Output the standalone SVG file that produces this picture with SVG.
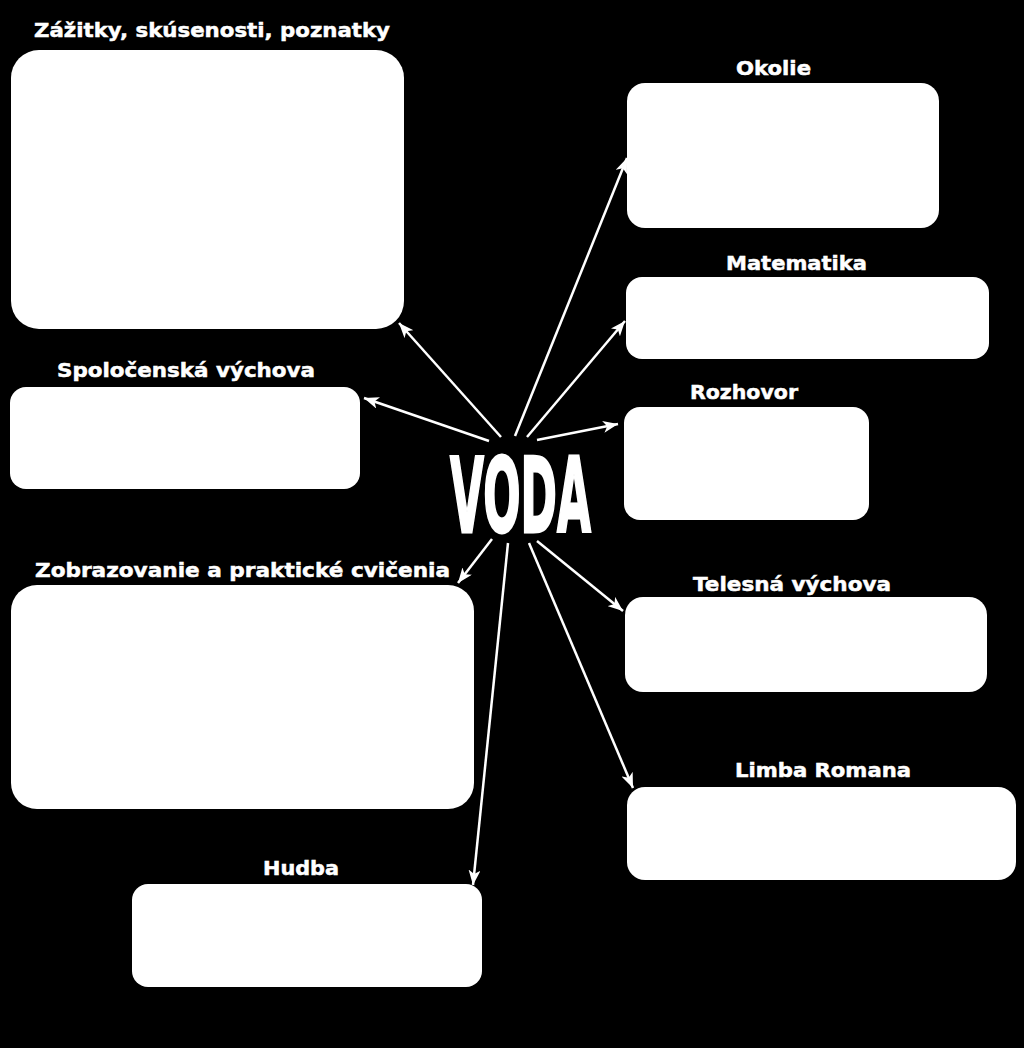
<svg xmlns="http://www.w3.org/2000/svg" width="1024" height="1048" viewBox="0 0 1024 1048">
<defs>
<style>
.box{fill:#ffffff;}
.lbl{font-family:"DejaVu Sans","Liberation Sans",sans-serif;font-weight:bold;font-size:20px;fill:#ffffff;stroke:#ffffff;stroke-width:0.5;}
.con{stroke:#ffffff;stroke-width:2.5;fill:none;marker-end:url(#ah);}
.title{font-family:"DejaVu Sans","Liberation Sans",sans-serif;font-weight:bold;font-size:44px;fill:#ffffff;stroke:#ffffff;stroke-width:1.2;}
</style>
<marker id="ah" markerUnits="userSpaceOnUse" markerWidth="16" markerHeight="12" refX="15" refY="6" orient="auto">
<path d="M0,0 L15,6 L0,12 L4,6 z" fill="#ffffff"/>
</marker>
</defs>
<rect x="0" y="0" width="1024" height="1048" fill="#000000"/>

<g id="connectors">
<line class="con" x1="501" y1="437" x2="399" y2="323"/>
<line class="con" x1="489" y1="441" x2="364" y2="398"/>
<line class="con" x1="515" y1="436" x2="627" y2="158"/>
<line class="con" x1="527" y1="437" x2="625" y2="321"/>
<line class="con" x1="537" y1="440" x2="618" y2="424"/>
<line class="con" x1="492" y1="539" x2="458" y2="583"/>
<line class="con" x1="508" y1="543" x2="473" y2="885"/>
<line class="con" x1="529" y1="543" x2="633" y2="788"/>
<line class="con" x1="537" y1="541" x2="623" y2="611"/>
</g>

<g id="center">
<text class="title" transform="translate(450,532) scale(1,2.35)" x="0" y="0" textLength="141" lengthAdjust="spacingAndGlyphs">VODA</text>
</g>

<g id="zazitky">
<text class="lbl" x="34" y="37" textLength="356" lengthAdjust="spacingAndGlyphs">Zážitky, skúsenosti, poznatky</text>
<rect class="box" x="11" y="50" width="393" height="279" rx="28"/>
</g>

<g id="okolie">
<text class="lbl" x="736" y="75" textLength="75" lengthAdjust="spacingAndGlyphs">Okolie</text>
<rect class="box" x="627" y="83" width="312" height="145" rx="18"/>
</g>

<g id="matematika">
<text class="lbl" x="726" y="270" textLength="141" lengthAdjust="spacingAndGlyphs">Matematika</text>
<rect class="box" x="626" y="277" width="363" height="82" rx="16"/>
</g>

<g id="spolocenska">
<text class="lbl" x="57" y="377" textLength="258" lengthAdjust="spacingAndGlyphs">Spoločenská výchova</text>
<rect class="box" x="10" y="387" width="350" height="102" rx="16"/>
</g>

<g id="rozhovor">
<text class="lbl" x="690" y="399" textLength="108" lengthAdjust="spacingAndGlyphs">Rozhovor</text>
<rect class="box" x="624" y="407" width="245" height="113" rx="16"/>
</g>

<g id="zobrazovanie">
<text class="lbl" x="35" y="577" textLength="415" lengthAdjust="spacingAndGlyphs">Zobrazovanie a praktické cvičenia</text>
<rect class="box" x="11" y="585" width="463" height="224" rx="26"/>
</g>

<g id="telesna">
<text class="lbl" x="693" y="591" textLength="198" lengthAdjust="spacingAndGlyphs">Telesná výchova</text>
<rect class="box" x="625" y="597" width="362" height="95" rx="18"/>
</g>

<g id="limba">
<text class="lbl" x="735" y="777" textLength="176" lengthAdjust="spacingAndGlyphs">Limba Romana</text>
<rect class="box" x="627" y="787" width="389" height="93" rx="18"/>
</g>

<g id="hudba">
<text class="lbl" x="263" y="875" textLength="76" lengthAdjust="spacingAndGlyphs">Hudba</text>
<rect class="box" x="132" y="884" width="350" height="103" rx="16"/>
</g>
</svg>
